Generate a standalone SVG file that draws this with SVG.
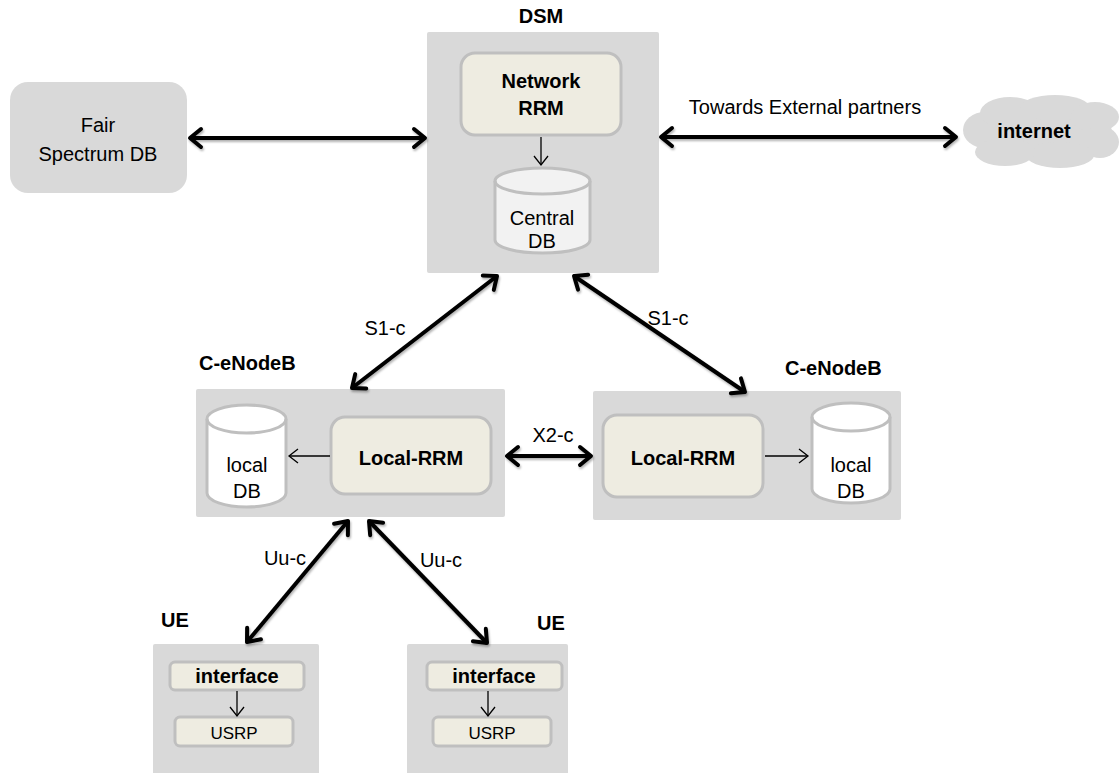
<svg xmlns="http://www.w3.org/2000/svg" width="1119" height="773" viewBox="0 0 1119 773">
<style>
text{font-family:"Liberation Sans",Arial,sans-serif;fill:#000;text-anchor:middle}
.b{font-weight:bold;font-size:20px}
.r{font-size:20px}
.s{font-size:17px}
.outer{fill:#d9d9d9}
.inner{fill:#eeece1;stroke:#bfbfbf;stroke-width:3}
.cyl{stroke:#bfbfbf;stroke-width:3}
.thick{stroke:#000;stroke-width:4;fill:none;marker-start:url(#ah);marker-end:url(#ah)}
.thin{stroke:#000;stroke-width:1.3;fill:none;marker-end:url(#ah2)}
</style>
<defs>
<marker id="ah" viewBox="-16 -14 20 28" markerWidth="20" markerHeight="28" refX="0" refY="0" orient="auto-start-reverse" markerUnits="userSpaceOnUse">
<path d="M-11,-9 L0,0 L-11,9" fill="none" stroke="#000" stroke-width="4" stroke-linecap="round" stroke-linejoin="round"/>
</marker>
<marker id="ah2" viewBox="-12 -9 14 18" markerWidth="14" markerHeight="18" refX="0" refY="0" orient="auto" markerUnits="userSpaceOnUse">
<path d="M-9,-7 L0,0 L-9,7" fill="none" stroke="#000" stroke-width="1.3"/>
</marker>
<filter id="sh" filterUnits="userSpaceOnUse" x="0" y="0" width="1119" height="773">
<feDropShadow dx="1" dy="2" stdDeviation="1.2" flood-color="#000" flood-opacity="0.3"/>
</filter>
</defs>

<g id="fair-db">
<rect class="outer" x="10" y="82" width="177" height="111" rx="18"/>
<text class="r" x="98" y="132">Fair</text>
<text class="r" x="98" y="161">Spectrum DB</text>
</g>

<g id="dsm">
<text class="b" x="541" y="23">DSM</text>
<rect class="outer" x="427" y="32" width="232" height="241" rx="2"/>
<g id="network-rrm">
<rect class="inner" x="461" y="53" width="160" height="82" rx="14"/>
<text class="b" x="541" y="88">Network</text>
<text class="b" x="541" y="115">RRM</text>
</g>
<g id="central-db">
<path class="cyl" fill="#f2f2f2" d="M495,181 A47.5,13 0 0 1 590,181 L590,240 A47.5,13 0 0 1 495,240 Z"/>
<path class="cyl" fill="none" d="M495,181 A47.5,13 0 0 0 590,181"/>
<text class="r" x="542" y="225">Central</text>
<text class="r" x="542" y="248">DB</text>
</g>
</g>

<g id="internet">
<g fill="#d9d9d9">
<ellipse cx="1040" cy="132" rx="72" ry="26"/>
<ellipse cx="985" cy="130" rx="22" ry="18"/>
<ellipse cx="1010" cy="113" rx="30" ry="16"/>
<ellipse cx="1055" cy="108" rx="35" ry="13"/>
<ellipse cx="1095" cy="117" rx="24" ry="15"/>
<ellipse cx="1100" cy="142" rx="19" ry="16"/>
<ellipse cx="1060" cy="155" rx="34" ry="13"/>
<ellipse cx="1005" cy="152" rx="30" ry="14"/>
</g>
<text class="b" x="1034" y="138">internet</text>
</g>

<g id="enb-left">
<text class="b" x="199" y="370" style="text-anchor:start">C-eNodeB</text>
<rect class="outer" x="196" y="389" width="309" height="128" rx="2"/>
<g id="local-db-left">
<path class="cyl" fill="#fff" d="M207,419 A39.5,14 0 0 1 286,419 L286,493 A39.5,14 0 0 1 207,493 Z"/>
<path class="cyl" fill="none" d="M207,419 A39.5,14 0 0 0 286,419"/>
<text class="r" x="247" y="472">local</text>
<text class="r" x="247" y="498">DB</text>
</g>
<g id="local-rrm-left">
<rect class="inner" x="331" y="417" width="160" height="77" rx="14"/>
<text class="b" x="411" y="465">Local-RRM</text>
</g>
</g>

<g id="enb-right">
<text class="b" x="785" y="375" style="text-anchor:start">C-eNodeB</text>
<rect class="outer" x="593" y="391" width="308" height="129" rx="2"/>
<g id="local-rrm-right">
<rect class="inner" x="603" y="415" width="160" height="82" rx="14"/>
<text class="b" x="683" y="465">Local-RRM</text>
</g>
<g id="local-db-right">
<path class="cyl" fill="#fff" d="M812,417 A39,14 0 0 1 890,417 L890,489 A39,14 0 0 1 812,489 Z"/>
<path class="cyl" fill="none" d="M812,417 A39,14 0 0 0 890,417"/>
<text class="r" x="851" y="472">local</text>
<text class="r" x="851" y="498">DB</text>
</g>
</g>

<g id="ue-left">
<text class="b" x="175" y="627">UE</text>
<rect class="outer" x="153" y="644" width="166" height="140" rx="2"/>
<rect class="inner" x="170" y="662" width="134" height="28" rx="5"/>
<text class="b" x="237" y="683">interface</text>
<rect class="inner" x="175" y="717" width="118" height="29" rx="5"/>
<text class="s" x="234" y="739">USRP</text>
</g>

<g id="ue-right">
<text class="b" x="551" y="630">UE</text>
<rect class="outer" x="407" y="644" width="161" height="140" rx="2"/>
<rect class="inner" x="427" y="662" width="135" height="28" rx="5"/>
<text class="b" x="494" y="683">interface</text>
<rect class="inner" x="433" y="717" width="118" height="29" rx="5"/>
<text class="s" x="492" y="739">USRP</text>
</g>

<g id="connectors">
<g filter="url(#sh)">
<line class="thick" x1="190" y1="138" x2="425" y2="138"/>
<line class="thick" x1="661" y1="137" x2="956" y2="137"/>
<line class="thick" x1="497" y1="276" x2="352" y2="388"/>
<line class="thick" x1="574" y1="276" x2="745" y2="392"/>
<line class="thick" x1="507" y1="456" x2="591" y2="456"/>
<line class="thick" x1="348" y1="521" x2="247" y2="642"/>
<line class="thick" x1="369" y1="521" x2="487" y2="643"/>
</g>
<text class="r" x="805" y="114">Towards External partners</text>
<text class="r" x="385" y="335">S1-c</text>
<text class="r" x="668" y="325">S1-c</text>
<text class="r" x="553" y="442">X2-c</text>
<text class="r" x="285" y="565">Uu-c</text>
<text class="r" x="441" y="567">Uu-c</text>
<line class="thin" x1="541" y1="137" x2="541" y2="165"/>
<line class="thin" x1="330" y1="456" x2="289" y2="456"/>
<line class="thin" x1="765" y1="456" x2="808" y2="456"/>
<line class="thin" x1="237" y1="691" x2="237" y2="716"/>
<line class="thin" x1="488" y1="691" x2="488" y2="716"/>
</g>
</svg>
